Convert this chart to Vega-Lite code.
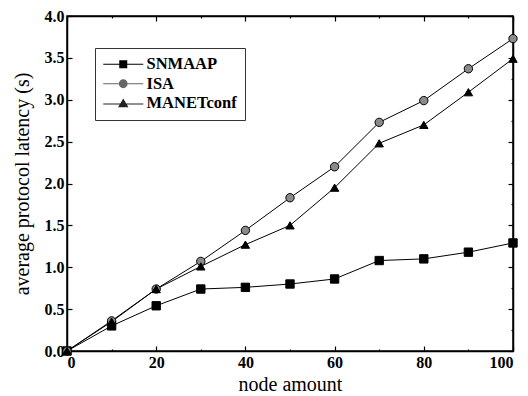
{
  "$schema": "https://vega.github.io/schema/vega-lite/v6.json",
  "width": 446,
  "height": 335,
  "autosize": {"type": "none"},
  "padding": {"left": 67, "top": 16, "right": 15, "bottom": 45},
  "background": "white",
  "config": {
    "view": {"stroke": "black", "strokeWidth": 1.5},
    "axis": {"grid": false, "domainColor": "black", "domainWidth": 1.5, "tickColor": "black", "tickWidth": 1.2,
      "labelFont": "Liberation Serif", "labelFontWeight": "bold", "labelFontSize": 16, "labelColor": "black",
      "titleFont": "Liberation Serif", "titleFontWeight": "normal", "titleFontSize": 20, "titleColor": "black"}
  },
  "data": {"values": [
    {"n": 0, "v": 0, "s": "SNMAAP"}, {"n": 10, "v": 0.30, "s": "SNMAAP"}, {"n": 20, "v": 0.54, "s": "SNMAAP"},
    {"n": 30, "v": 0.74, "s": "SNMAAP"}, {"n": 40, "v": 0.76, "s": "SNMAAP"}, {"n": 50, "v": 0.80, "s": "SNMAAP"},
    {"n": 60, "v": 0.86, "s": "SNMAAP"}, {"n": 70, "v": 1.08, "s": "SNMAAP"}, {"n": 80, "v": 1.10, "s": "SNMAAP"},
    {"n": 90, "v": 1.18, "s": "SNMAAP"}, {"n": 100, "v": 1.29, "s": "SNMAAP"},
    {"n": 0, "v": 0, "s": "ISA"}, {"n": 10, "v": 0.36, "s": "ISA"}, {"n": 20, "v": 0.74, "s": "ISA"},
    {"n": 30, "v": 1.07, "s": "ISA"}, {"n": 40, "v": 1.44, "s": "ISA"}, {"n": 50, "v": 1.83, "s": "ISA"},
    {"n": 60, "v": 2.20, "s": "ISA"}, {"n": 70, "v": 2.73, "s": "ISA"}, {"n": 80, "v": 2.99, "s": "ISA"},
    {"n": 90, "v": 3.37, "s": "ISA"}, {"n": 100, "v": 3.73, "s": "ISA"},
    {"n": 0, "v": 0, "s": "MANETconf"}, {"n": 10, "v": 0.35, "s": "MANETconf"}, {"n": 20, "v": 0.74, "s": "MANETconf"},
    {"n": 30, "v": 1.01, "s": "MANETconf"}, {"n": 40, "v": 1.27, "s": "MANETconf"}, {"n": 50, "v": 1.50, "s": "MANETconf"},
    {"n": 60, "v": 1.95, "s": "MANETconf"}, {"n": 70, "v": 2.48, "s": "MANETconf"}, {"n": 80, "v": 2.70, "s": "MANETconf"},
    {"n": 90, "v": 3.09, "s": "MANETconf"}, {"n": 100, "v": 3.49, "s": "MANETconf"}
  ]},
  "layer": [
    {
      "resolve": {"scale": {"shape": "independent", "fill": "independent"}},
      "layer": [
        {
          "mark": {"type": "line", "color": "black", "strokeWidth": 1},
          "encoding": {
            "x": {"field": "n", "type": "quantitative", "scale": {"domain": [0, 100], "nice": false},
              "title": "node amount",
              "axis": {"orient": "bottom", "values": [0,10,20,30,40,50,60,70,80,90,100],
                "labelExpr": "datum.value % 20 === 0 ? datum.label : ''",
                "tickSize": {"condition": {"test": "datum.value % 20 === 0", "value": -5}, "value": -2},
                "labelPadding": 8, "titlePadding": 4}},
            "y": {"field": "v", "type": "quantitative", "scale": {"domain": [0, 4], "nice": false},
              "title": "average protocol latency (s)",
              "axis": {"orient": "left", "values": [0,0.25,0.5,0.75,1,1.25,1.5,1.75,2,2.25,2.5,2.75,3,3.25,3.5,3.75,4],
                "labelExpr": "datum.value % 0.5 === 0 ? format(datum.value, '.1f') : ''",
                "tickSize": {"condition": {"test": "datum.value % 0.5 === 0", "value": -5}, "value": -2},
                "labelPadding": 8, "titlePadding": 12}},
            "detail": {"field": "s"}
          }
        },
        {
          "mark": {"type": "point", "filled": true, "stroke": "black", "strokeWidth": 1, "opacity": 1},
          "encoding": {
            "x": {"field": "n", "type": "quantitative"},
            "y": {"field": "v", "type": "quantitative"},
            "shape": {"field": "s", "type": "nominal", "legend": null,
              "scale": {"domain": ["SNMAAP", "ISA", "MANETconf"], "range": ["square", "circle", "triangle-up"]}},
            "fill": {"field": "s", "type": "nominal", "legend": null,
              "scale": {"domain": ["SNMAAP", "ISA", "MANETconf"], "range": ["#000000", "#8a8a8a", "#000000"]}},
            "size": {"value": 70}
          }
        },
        {
          "transform": [{"filter": "false"}],
          "mark": {"type": "point", "filled": true, "opacity": 1},
          "encoding": {
            "fill": {"field": "s", "type": "nominal", "legend": null,
              "scale": {"domain": ["SNMAAP", "ISA", "MANETconf"], "range": ["#000000", "#666666", "#222222"]}},
            "shape": {"field": "s", "type": "nominal",
              "scale": {"domain": ["SNMAAP", "ISA", "MANETconf"],
                "range": ["M-5,-0.13H5V0.13H-5ZM-1,-1H1V1H-1Z", "M-5,-0.13H5V0.13H-5ZM-1.1,0A1.1,1.1,0,1,1,1.1,0A1.1,1.1,0,1,1,-1.1,0Z", "M-5,0.07H5V0.33H-5ZM0,-1.2L1.3,1H-1.3Z"]},
              "legend": {
                "title": null, "orient": "none", "legendX": 28, "legendY": 32,
                "padding": 8, "strokeColor": "#333", "fillColor": "white",
                "symbolSize": 64, "symbolOffset": 12, "symbolOpacity": 1,
                "labelOffset": 15, "labelFont": "Liberation Serif", "labelFontWeight": "bold",
                "labelFontSize": 16.5, "labelColor": "black", "rowPadding": 2.5
              }
            }
          }
        }
      ]
    },
    {
      "mark": {"type": "point", "opacity": 0},
      "encoding": {
        "x": {"field": "n", "type": "quantitative",
          "axis": {"orient": "top", "values": [0,10,20,30,40,50,60,70,80,90,100], "labels": false, "title": null,
            "tickSize": {"condition": {"test": "datum.value % 20 === 0", "value": -5}, "value": -2}}},
        "y": {"field": "v", "type": "quantitative",
          "axis": {"orient": "right", "values": [0,0.25,0.5,0.75,1,1.25,1.5,1.75,2,2.25,2.5,2.75,3,3.25,3.5,3.75,4], "labels": false, "title": null,
            "tickSize": {"condition": {"test": "datum.value % 0.5 === 0", "value": -5}, "value": -2}}}
      }
    }
  ],
  "resolve": {"axis": {"x": "independent", "y": "independent"}}
}
